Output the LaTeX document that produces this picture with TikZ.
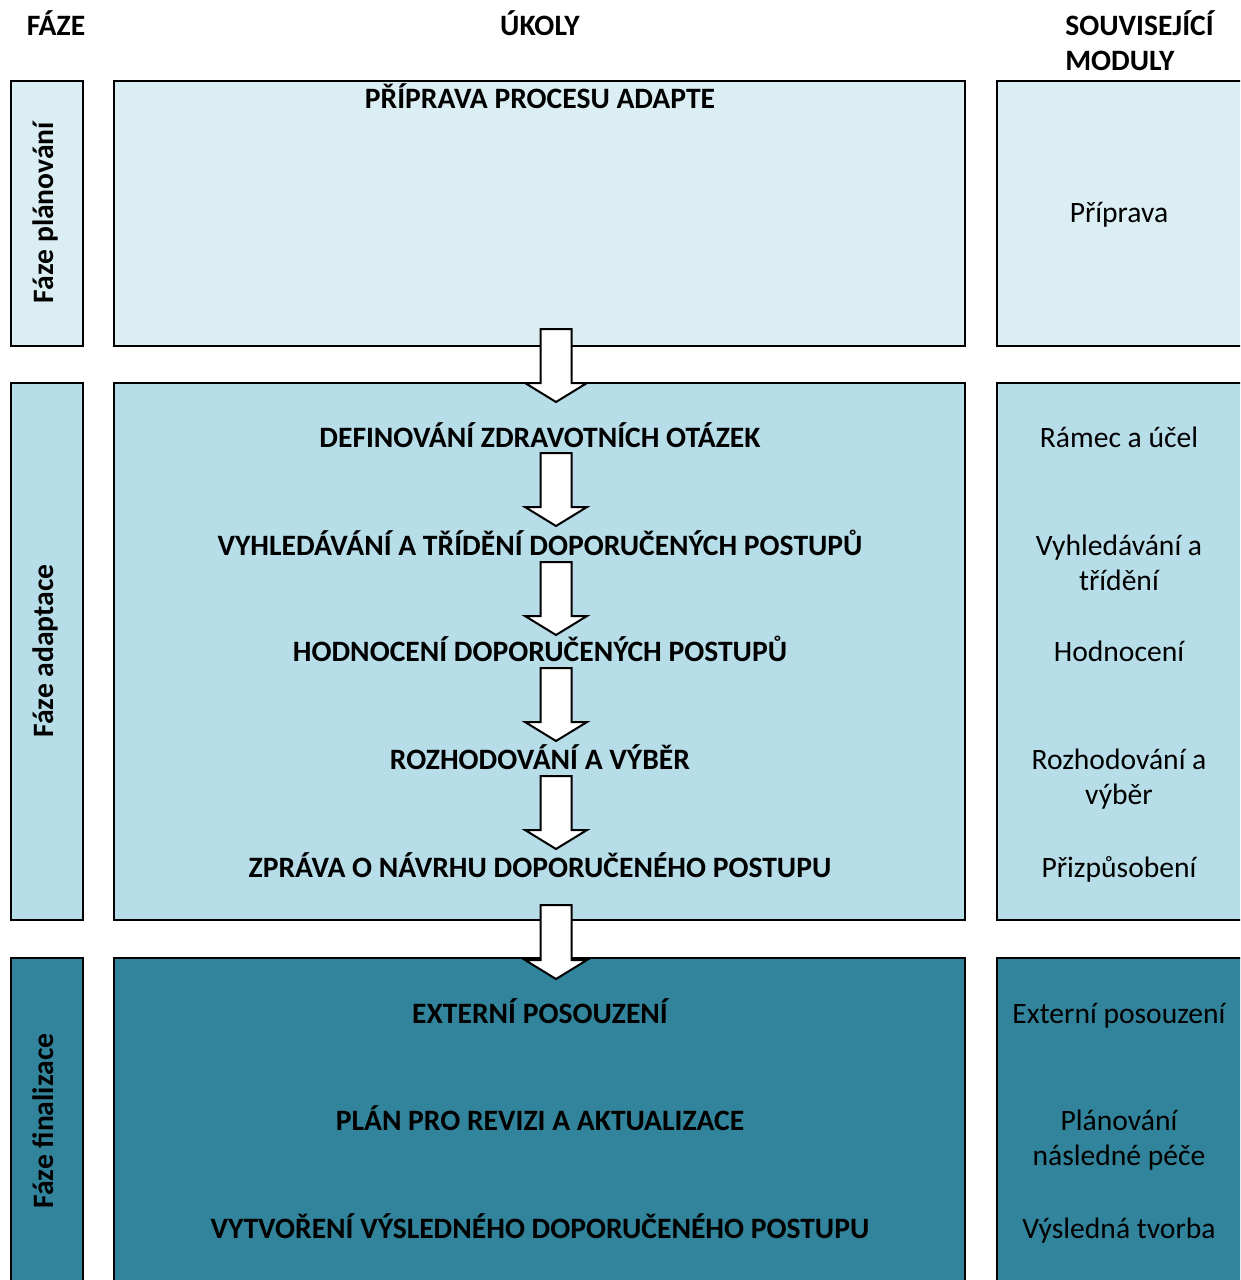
\documentclass[tikz,border=0pt]{standalone}
\usepackage{fontspec}
\setmainfont{Carlito}
\definecolor{planc}{RGB}{219,238,243}
\definecolor{adapc}{RGB}{183,221,232}
\definecolor{finc}{RGB}{49,132,155}
\newcommand\barrow[4]{\draw[blockarrow] (540.5,#2) -- (571.5,#2) -- (571.5,#3) -- (587,#3) -- (556,#4) -- (525,#3) -- (540.5,#3) -- cycle;}
\begin{document}
\begin{tikzpicture}[x=0.75pt,y=-0.75pt,
  cell/.style={draw=black,line width=2pt},
  hdr/.style={font=\fontsize{22.2}{26}\selectfont\bfseries, inner sep=0, anchor=base},
  task/.style={font=\fontsize{22.2}{26}\selectfont\bfseries, inner sep=0, anchor=base},
  modl/.style={font=\fontsize{22.2}{26}\selectfont, inner sep=0, anchor=base},
  vlab/.style={font=\fontsize{22.2}{26}\selectfont\bfseries, rotate=90, inner sep=0, anchor=base},
  blockarrow/.style={draw=black, fill=white, line width=1.5pt, line join=miter}]
\clip (0,0) rectangle (1240,1280);
% headers
\node[hdr] (hf) at (56,36) {FÁZE};
\node[hdr] (hu) at (540,36) {ÚKOLY};
\node[hdr, anchor=base west] (hs1) at (1065,36) {SOUVISEJÍCÍ};
\node[hdr, anchor=base west] (hs2) at (1065,71) {MODULY};
% boxes: planning
\draw[cell, fill=planc] (11,81) rectangle (83,346);
\draw[cell, fill=planc] (114,81) rectangle (965,346);
\draw[cell, fill=planc] (997,81) rectangle (1260,346);
% adaptation
\draw[cell, fill=adapc] (11,383) rectangle (83,920);
\draw[cell, fill=adapc] (114,383) rectangle (965,920);
\draw[cell, fill=adapc] (997,383) rectangle (1260,920);
% finalization
\draw[cell, fill=finc] (11,958) rectangle (83,1300);
\draw[cell, fill=finc] (114,958) rectangle (965,1300);
\draw[cell, fill=finc] (997,958) rectangle (1260,1300);
% phase labels
\node[vlab] (v1) at (53,212.5) {Fáze plánování};
\node[vlab] (v2) at (53,651) {Fáze adaptace};
\node[vlab] (v3) at (53,1121) {Fáze finalizace};
% tasks
\node[task] (t0) at (540,109) {PŘÍPRAVA PROCESU ADAPTE};
\node[task] (t1) at (540,447) {DEFINOVÁNÍ ZDRAVOTNÍCH OTÁZEK};
\node[task] (t2) at (540,555) {VYHLEDÁVÁNÍ A TŘÍDĚNÍ DOPORUČENÝCH POSTUPŮ};
\node[task] (t3) at (540,661) {HODNOCENÍ DOPORUČENÝCH POSTUPŮ};
\node[task] (t4) at (540,769) {ROZHODOVÁNÍ A VÝBĚR};
\node[task] (t5) at (540,877) {ZPRÁVA O NÁVRHU DOPORUČENÉHO POSTUPU};
\node[task] (t6) at (540,1023) {EXTERNÍ POSOUZENÍ};
\node[task] (t7) at (540,1130) {PLÁN PRO REVIZI A AKTUALIZACE};
\node[task] (t8) at (540,1238) {VYTVOŘENÍ VÝSLEDNÉHO DOPORUČENÉHO POSTUPU};
% modules
\node[modl] (m0) at (1119,223) {Příprava};
\node[modl] (m1) at (1119,447) {Rámec a účel};
\node[modl] (m2a) at (1119,555) {Vyhledávání a};
\node[modl] (m2b) at (1119,590) {třídění};
\node[modl] (m3) at (1119,661) {Hodnocení};
\node[modl] (m4a) at (1119,769) {Rozhodování a};
\node[modl] (m4b) at (1119,804) {výběr};
\node[modl] (m5) at (1119,877) {Přizpůsobení};
\node[modl] (m6) at (1119,1023) {Externí posouzení};
\node[modl] (m7a) at (1119,1130) {Plánování};
\node[modl] (m7b) at (1119,1165) {následné péče};
\node[modl] (m8) at (1119,1238) {Výsledná tvorba};
% arrows
\barrow{a0}{329}{383}{402}
\barrow{a1}{453}{507}{526}
\barrow{a2}{562}{616}{635}
\barrow{a3}{668}{722}{741}
\barrow{a4}{776}{830}{849}
\barrow{a5}{905}{960}{979}
\end{tikzpicture}
\end{document}
